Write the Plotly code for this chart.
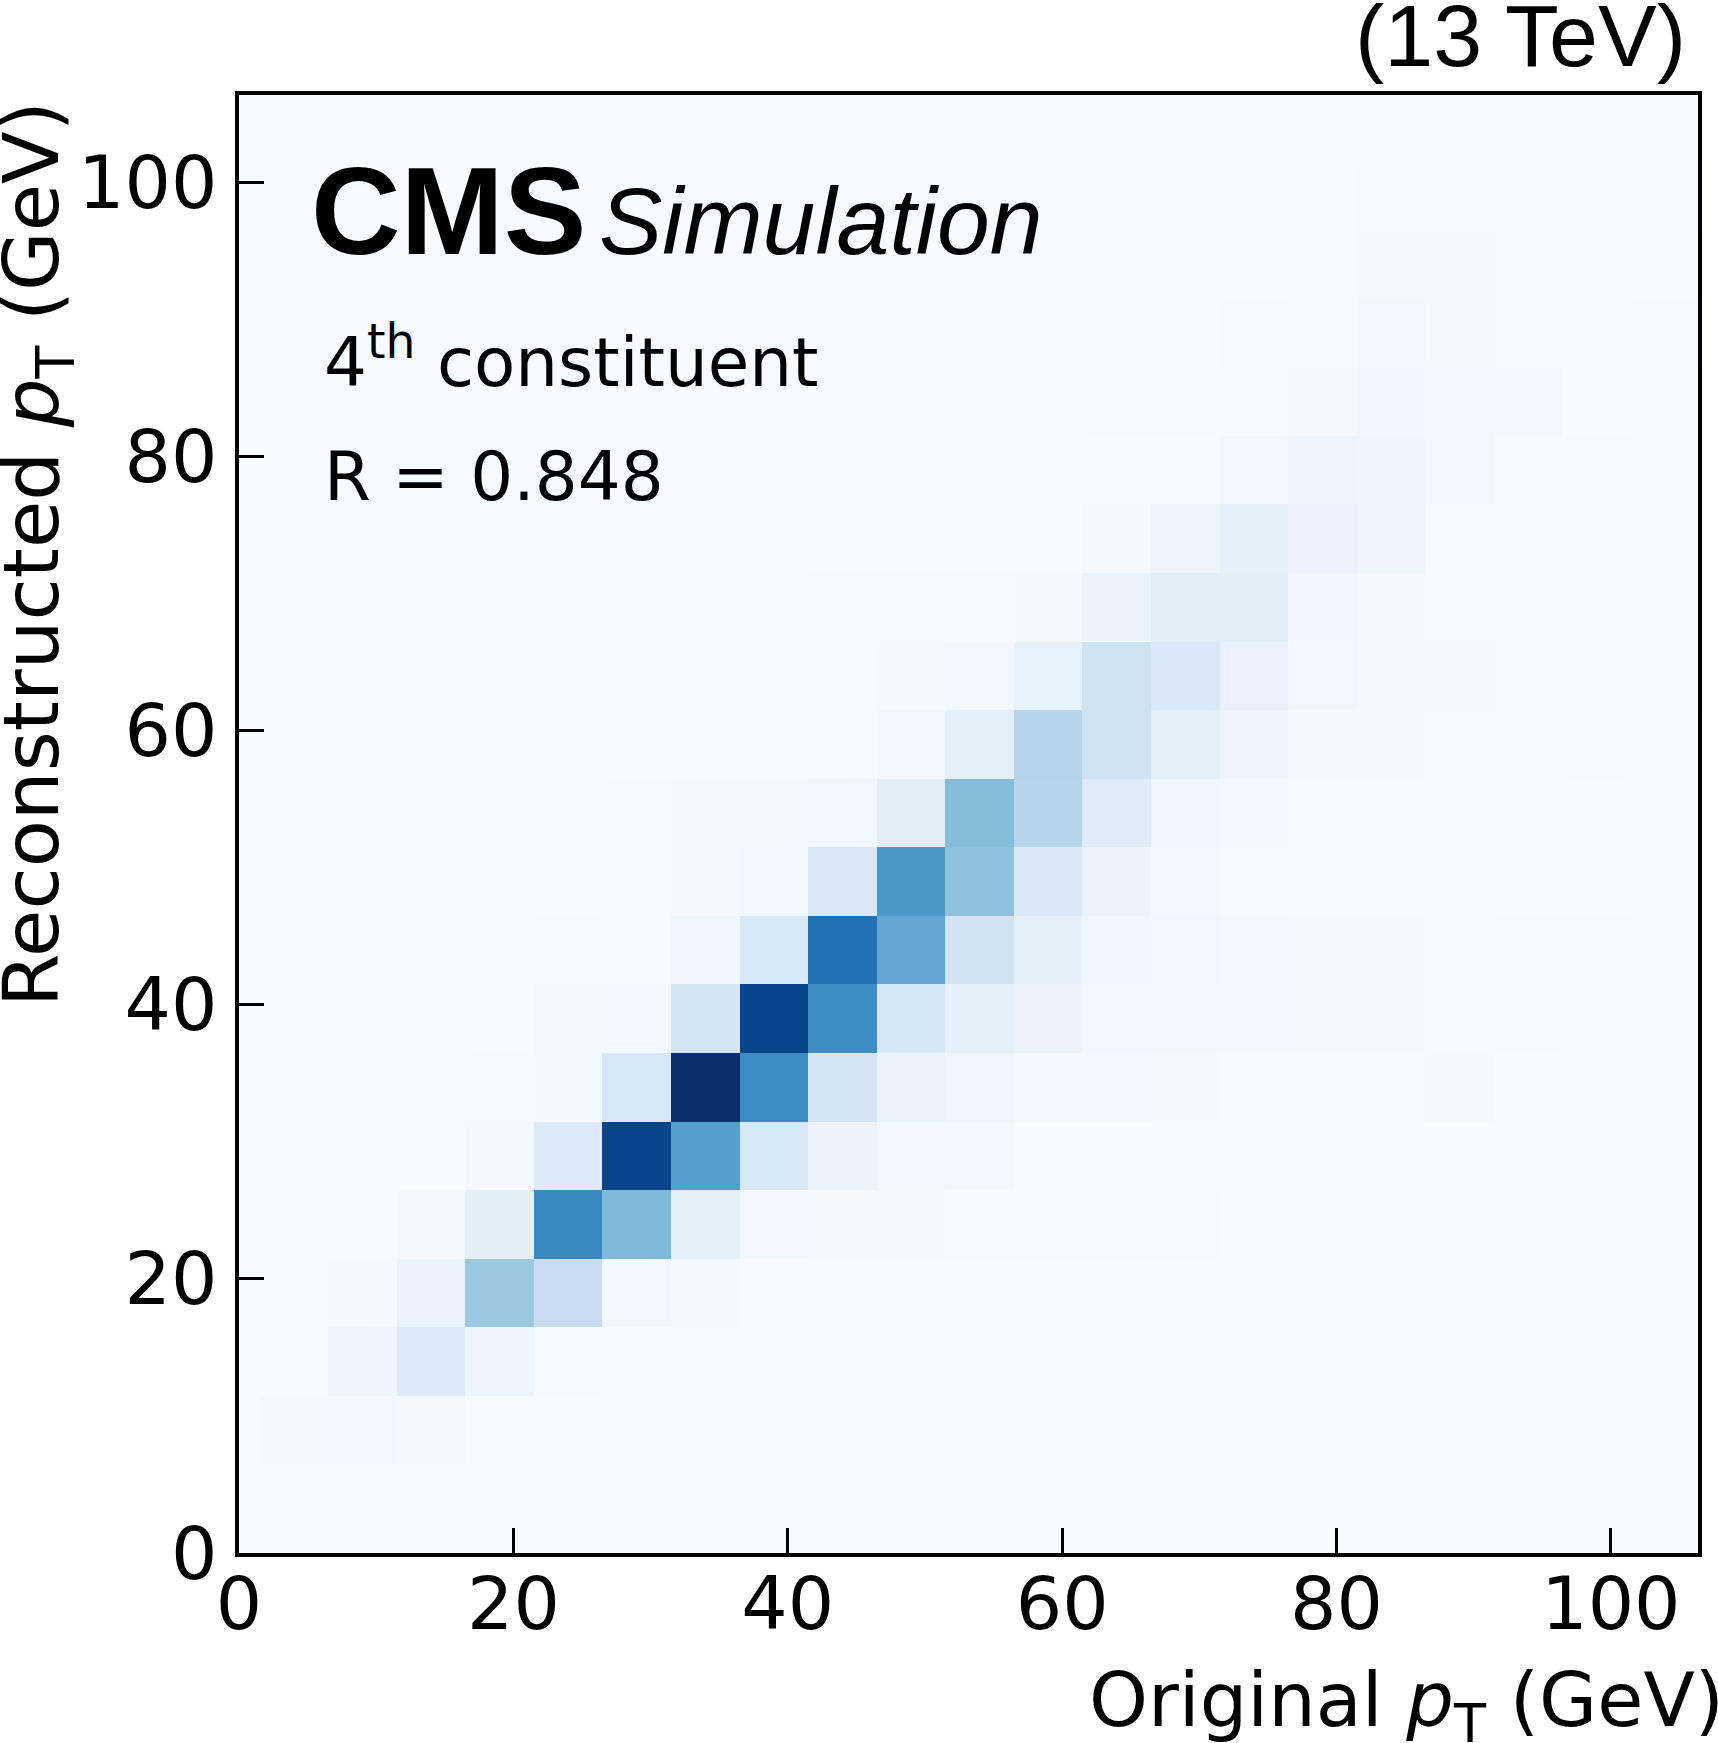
import plotly.graph_objects as go

# Bin centres (GeV), bins are 5 GeV wide from 1.5 to 106.5
x_centers = [4 + 5 * i for i in range(21)]
y_centers = [4 + 5 * j for j in range(21)]

# Normalised bin contents, rows = reconstructed pT bins (bottom -> top)
z_rows = [
    [0]*21,
    [0.015, 0.025, 0.015] + [0]*18,
    [0, 0.045, 0.13, 0.05, 0.008, 0.003, 0.003] + [0]*14,
    [0, 0.012, 0.07, 0.385, 0.24, 0.035, 0.015, 0.006, 0.005, 0.005] + [0]*11,
    [0, 0, 0.012, 0.1, 0.655, 0.453, 0.095, 0.035, 0.015, 0.015, 0.008, 0.008, 0.004, 0.01, 0, 0, 0, 0, 0, 0, 0],
    [0, 0, 0.003, 0.015, 0.13, 0.92, 0.567, 0.156, 0.062, 0.025, 0.02, 0.008, 0.008, 0.008, 0.004, 0, 0, 0, 0, 0, 0],
    [0, 0, 0, 0.004, 0.018, 0.156, 1.0, 0.644, 0.177, 0.062, 0.04, 0.025, 0.02, 0.015, 0.01, 0.01, 0.006, 0.012, 0, 0, 0],
    [0, 0, 0, 0, 0.012, 0.025, 0.172, 0.917, 0.644, 0.167, 0.085, 0.055, 0.03, 0.02, 0.02, 0.015, 0.015, 0.008, 0.008, 0, 0],
    [0, 0, 0, 0, 0.004, 0.008, 0.04, 0.156, 0.75, 0.527, 0.187, 0.09, 0.04, 0.035, 0.02, 0.015, 0.015, 0.01, 0.008, 0.004, 0],
    [0, 0, 0, 0, 0.003, 0.005, 0.012, 0.035, 0.145, 0.6, 0.409, 0.14, 0.055, 0.025, 0.01, 0.008, 0.005, 0.004, 0.003, 0, 0],
    [0, 0, 0, 0, 0, 0.005, 0.012, 0.015, 0.03, 0.1, 0.436, 0.297, 0.12, 0.04, 0.02, 0.01, 0.006, 0.005, 0.004, 0.003, 0],
    [0, 0, 0, 0, 0, 0, 0.005, 0.004, 0.01, 0.03, 0.09, 0.3, 0.203, 0.09, 0.045, 0.015, 0.015, 0.008, 0.005, 0.004, 0],
    [0, 0, 0, 0, 0, 0, 0, 0.003, 0.006, 0.015, 0.02, 0.08, 0.198, 0.14, 0.07, 0.03, 0.015, 0.015, 0.008, 0.008, 0.003],
    [0, 0, 0, 0, 0, 0, 0, 0.003, 0.004, 0.004, 0.004, 0.015, 0.055, 0.105, 0.1, 0.04, 0.012, 0.01, 0.008, 0.008, 0.003],
    [0, 0, 0, 0, 0, 0, 0, 0.003, 0.003, 0.003, 0.003, 0.003, 0.015, 0.045, 0.095, 0.065, 0.045, 0.01, 0.008, 0.004, 0.003],
    [0, 0, 0, 0, 0, 0, 0, 0, 0.003, 0.003, 0.003, 0.003, 0.003, 0.003, 0.03, 0.05, 0.045, 0.03, 0.008, 0.008, 0.003],
    [0]*11 + [0.003, 0.01, 0.01, 0.01, 0.015, 0.04, 0.035, 0.025, 0.003, 0.003],
    [0]*14 + [0.008, 0.008, 0.03, 0.015, 0.008, 0.008, 0.008],
    [0]*15 + [0.006, 0.015, 0.015, 0.008, 0.008, 0.003],
    [0]*16 + [0.008, 0.008, 0.008, 0.008, 0.008],
    [0]*18 + [0.006, 0.004, 0.003],
]

tick_vals = [0, 20, 40, 60, 80, 100]
tick_text = ["0", "20", "40", "60", "80", "100"]

blues = ["#f7fbff", "#deebf7", "#c6dbef", "#9ecae1", "#6baed6",
         "#4292c6", "#2171b5", "#08519c", "#08306b"]
colorscale = [[k / 8, c] for k, c in enumerate(blues)]

W, H = 1718, 1743
L, R, T, B = 239, 20, 95, 190
pw, ph = W - L - R, H - T - B


def px(xp):
    return (xp - L) / pw


def py(yp):
    return (H - B - yp) / ph


fig = go.Figure(go.Heatmap(
    x=x_centers, y=y_centers, z=z_rows,
    colorscale=colorscale, zmin=0, zmax=1, showscale=False,
    hoverinfo="skip",
))

axis_common = dict(
    range=[0, 106.35], tickvals=tick_vals, ticktext=tick_text,
    ticks="inside", ticklen=25, tickwidth=3, tickcolor="black",
    showline=True, linewidth=4, linecolor="black", mirror=True,
    showgrid=False, zeroline=False,
    tickfont=dict(family="DejaVu Sans", size=73, color="black"),
)

fig.update_layout(
    width=W, height=H,
    margin=dict(l=L, r=R, t=T, b=B),
    paper_bgcolor="white", plot_bgcolor="#f7fbff",
    xaxis=dict(axis_common, ticklabelstandoff=-16),
    yaxis=dict(axis_common, ticklabelstandoff=3),
    font=dict(family="DejaVu Sans", color="black"),
)

annotations = [
    dict(text="<b>CMS</b>", x=px(309), y=py(282), xanchor="left", yanchor="bottom",
         font=dict(family="Liberation Sans", size=124, color="black")),
    dict(text="<i>Simulation</i>", x=px(597), y=py(276), xanchor="left", yanchor="bottom",
         font=dict(family="Liberation Sans", size=95, color="black")),
    dict(text="4<sup>th</sup> constituent", x=px(322), y=py(404), xanchor="left", yanchor="bottom",
         font=dict(family="DejaVu Sans", size=67.5, color="black")),
    dict(text="R = 0.848", x=px(322), y=py(518), xanchor="left", yanchor="bottom",
         font=dict(family="DejaVu Sans", size=67.5, color="black")),
    dict(text="(13 TeV)", x=px(1688), y=py(87), xanchor="right", yanchor="bottom",
         font=dict(family="Liberation Sans", size=88, color="black")),
    dict(text="Original <i>p</i><sub>T</sub> (GeV)", x=px(1726), y=py(1756),
         xanchor="right", yanchor="bottom",
         font=dict(family="DejaVu Sans", size=75, color="black")),
    dict(text="Reconstructed <i>p</i><sub>T</sub> (GeV)", x=px(37), y=py(99),
         xanchor="center", yanchor="top", textangle=-90,
         font=dict(family="DejaVu Sans", size=77, color="black")),
]
for a in annotations:
    a.update(xref="paper", yref="paper", showarrow=False)
fig.update_layout(annotations=annotations)

fig.write_html("out.html", config={"displayModeBar": False},
               post_script="document.body.style.margin='0';")
